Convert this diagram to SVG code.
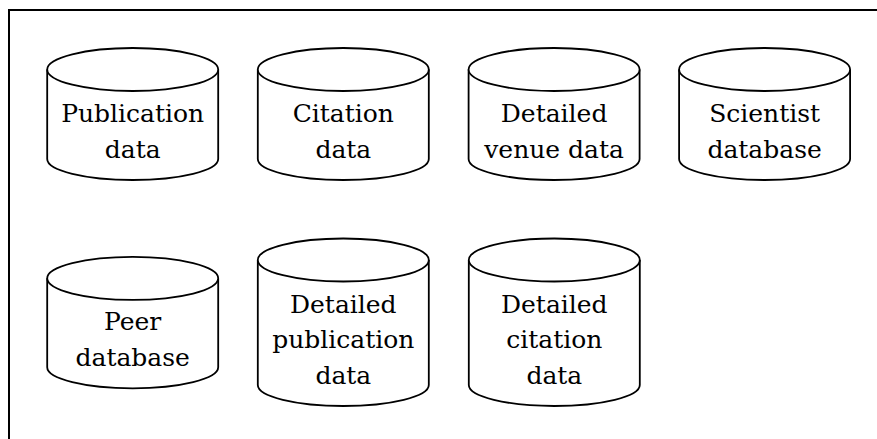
<svg xmlns="http://www.w3.org/2000/svg" width="877" height="439" viewBox="0 0 877 439">
  <style>
    .frame { fill: none; stroke: #000; stroke-width: 2; }
    .cyl { fill: #fff; stroke: #000; stroke-width: 1.8; }
    text { font-family: "DejaVu Serif", serif; font-size: 25px; text-anchor: middle; fill: #000; }
  </style>
  <defs>
    <ellipse id="cap" cx="0" cy="0" rx="85.5" ry="21.5"/>
  </defs>

  <!-- enclosing frame -->
  <rect class="frame" x="9" y="10" width="900" height="460"/>

  <g id="connectors"></g>

  <!-- row 1 -->
  <g id="publication-data" transform="translate(132.7,69.5)">
    <path class="cyl" d="M-85.5,0 V89.5 A85.5,21 0 0 0 85.5,89.5 V0"/>
    <use class="cyl" href="#cap"/>
    <text x="0" y="52.5">Publication</text>
    <text x="0" y="88">data</text>
  </g>
  <g id="citation-data" transform="translate(343.3,69.5)">
    <path class="cyl" d="M-85.5,0 V89.5 A85.5,21 0 0 0 85.5,89.5 V0"/>
    <use class="cyl" href="#cap"/>
    <text x="0" y="52.5">Citation</text>
    <text x="0" y="88">data</text>
  </g>
  <g id="detailed-venue-data" transform="translate(554.1,69.5)">
    <path class="cyl" d="M-85.5,0 V89.5 A85.5,21 0 0 0 85.5,89.5 V0"/>
    <use class="cyl" href="#cap"/>
    <text x="0" y="52.5">Detailed</text>
    <text x="0" y="88">venue data</text>
  </g>
  <g id="scientist-database" transform="translate(764.6,69.5)">
    <path class="cyl" d="M-85.5,0 V89.5 A85.5,21 0 0 0 85.5,89.5 V0"/>
    <use class="cyl" href="#cap"/>
    <text x="0" y="52.5">Scientist</text>
    <text x="0" y="88">database</text>
  </g>

  <!-- row 2 -->
  <g id="peer-database" transform="translate(132.7,278.3)">
    <path class="cyl" d="M-85.5,0 V89 A85.5,21 0 0 0 85.5,89 V0"/>
    <use class="cyl" href="#cap"/>
    <text x="0" y="51.7">Peer</text>
    <text x="0" y="87.7">database</text>
  </g>
  <g id="detailed-publication-data" transform="translate(343.3,260)">
    <path class="cyl" d="M-85.5,0 V125 A85.5,21 0 0 0 85.5,125 V0"/>
    <use class="cyl" href="#cap"/>
    <text x="0" y="52.7">Detailed</text>
    <text x="0" y="88.3">publication</text>
    <text x="0" y="124">data</text>
  </g>
  <g id="detailed-citation-data" transform="translate(554.3,260)">
    <path class="cyl" d="M-85.5,0 V125 A85.5,21 0 0 0 85.5,125 V0"/>
    <use class="cyl" href="#cap"/>
    <text x="0" y="52.7">Detailed</text>
    <text x="0" y="88.3">citation</text>
    <text x="0" y="124">data</text>
  </g>
</svg>
